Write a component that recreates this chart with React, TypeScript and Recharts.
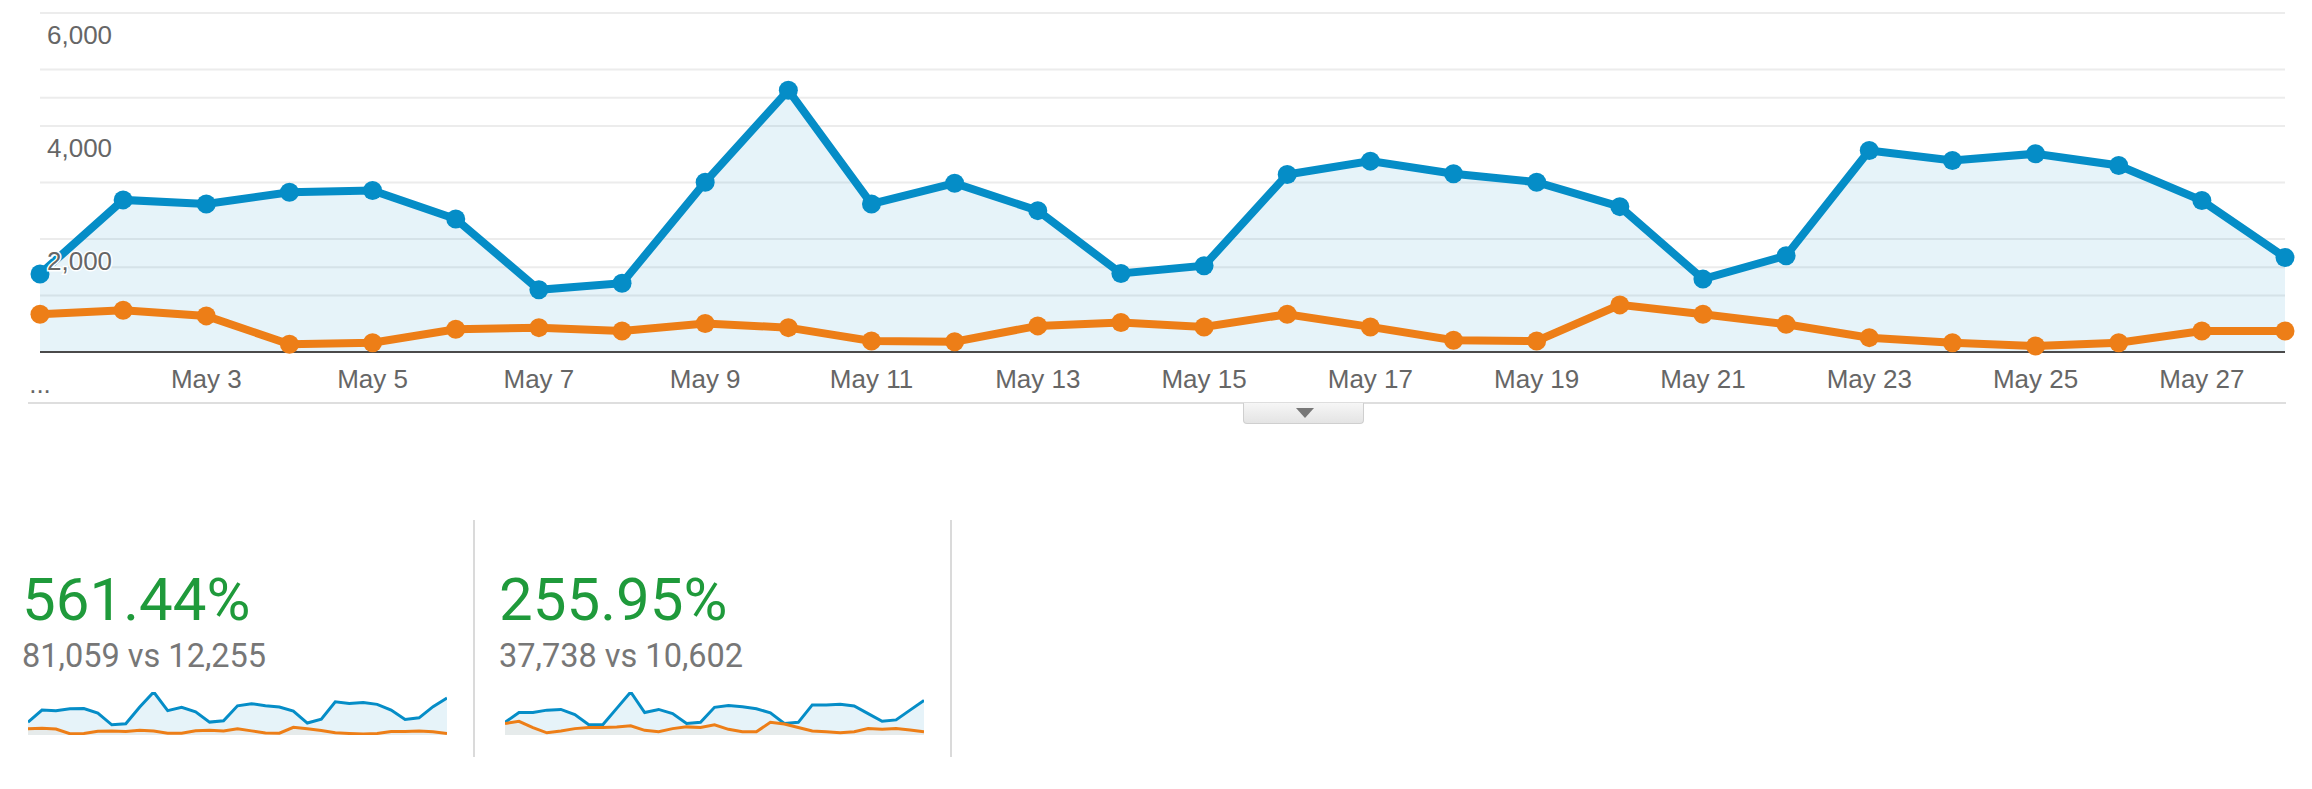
import React from 'react'
import { ComposedChart, Area, Line, XAxis, YAxis, CartesianGrid } from 'recharts'

const dates = [
  'May 1', 'May 2', 'May 3', 'May 4', 'May 5', 'May 6', 'May 7', 'May 8', 'May 9', 'May 10',
  'May 11', 'May 12', 'May 13', 'May 14', 'May 15', 'May 16', 'May 17', 'May 18', 'May 19', 'May 20',
  'May 21', 'May 22', 'May 23', 'May 24', 'May 25', 'May 26', 'May 27', 'May 28', 'May 29', 'May 30', 'May 31',
]

// metric 1 (main chart + first scorecard)
const sessionsCur = [
  1379, 2692, 2621, 2828, 2858, 2355, 1101, 1218, 3006, 4633,
  2621, 2988, 2502, 1390, 1527, 3142, 3378, 3154, 3006, 2573,
  1290, 1704, 3568, 3390, 3509, 3301, 2680, 1674, 1853, 3055, 3995,
]
const sessionsPrev = [
  669, 740, 639, 137, 165, 403, 431, 373, 503, 431,
  195, 183, 462, 521, 444, 669, 444, 207, 195, 834,
  669, 491, 254, 165, 107, 165, 373, 373, 425, 350, 160,
]

// metric 2 (second scorecard)
const usersCur = [
  683, 1209, 1209, 1341, 1379, 1097, 551, 551, 1435, 2319,
  1209, 1379, 1153, 626, 683, 1492, 1586, 1529, 1416, 1191,
  626, 683, 1623, 1623, 1661, 1567, 1153, 739, 814, 1341, 1868,
]
const usersPrev = [
  626, 739, 401, 119, 213, 344, 401, 401, 438, 495,
  250, 175, 344, 438, 401, 551, 307, 175, 175, 683,
  589, 401, 213, 175, 119, 175, 344, 307, 344, 269, 175,
]

const mainDays = 28
const yTicks = [0, 1000, 1500, 2000, 3000, 4000, 4500, 5000, 6000]
const yLabelTicks = [2000, 4000, 6000]

const scorecards = [
  { change: '561.44%', compare: '81,059 vs 12,255', cur: sessionsCur, prev: sessionsPrev },
  { change: '255.95%', compare: '37,738 vs 10,602', cur: usersCur, prev: usersPrev },
]

const BLUE = '#058dc7'
const ORANGE = '#ed7e17'
const AXIS_FONT = '"Liberation Sans", Arial, sans-serif'

const mainData = dates.slice(0, mainDays).map((d, i) => ({ date: d, cur: sessionsCur[i], prev: sessionsPrev[i] }))

const MARGIN = { top: 13, right: 27, left: 39, bottom: 0 }

function XTick(props: any) {
  const { x, y, payload, index } = props
  const first = index === 0 || payload.value === dates[0]
  return (
    <text x={x} y={y + (first ? 30 : 25)} textAnchor="middle" dominantBaseline="central" fill="#666" fontSize={26} fontFamily={AXIS_FONT}>
      {first ? '...' : payload.value}
    </text>
  )
}

function YTick(props: any) {
  const { y, payload } = props
  if (!yLabelTicks.includes(payload.value)) return <g />
  return (
    <text
      x={MARGIN.left + 8}
      y={y + 22}
      textAnchor="start"
      dominantBaseline="central"
      fill="#666"
      fontSize={26}
      fontFamily={AXIS_FONT}
      stroke="#fff"
      strokeWidth={3}
      style={{ paintOrder: 'stroke' }}
    >
      {payload.value.toLocaleString('en-US')}
    </text>
  )
}

function Sparkline({ cur, prev }: { cur: number[]; prev: number[] }) {
  const data = dates.map((d, i) => ({ date: d, cur: cur[i], prev: prev[i] }))
  return (
    <ComposedChart width={419} height={43} data={data} margin={{ top: 0, right: 0, left: 0, bottom: 0 }}>
      <XAxis dataKey="date" hide />
      <YAxis hide domain={[0, 'dataMax']} />
      <Area type="linear" dataKey="cur" stroke={BLUE} strokeWidth={3} fill={BLUE} fillOpacity={0.1} dot={false} activeDot={false} isAnimationActive={false} />
      <Area type="linear" dataKey="prev" stroke={ORANGE} strokeWidth={3} fill={ORANGE} fillOpacity={0.06} dot={false} activeDot={false} isAnimationActive={false} />
    </ComposedChart>
  )
}

export default function App() {
  return (
    <div style={{ position: 'absolute', left: 0, top: 0, width: 2312, height: 789, background: '#fff', overflow: 'hidden' }}>
      <div style={{ position: 'absolute', left: 0, top: 0 }}>
        <ComposedChart width={2312} height={400} data={mainData} margin={MARGIN}>
          <CartesianGrid vertical={false} stroke="#ececec" strokeWidth={2} />
          <XAxis
            dataKey="date"
            interval={1}
            height={48}
            tickSize={0}
            tickLine={false}
            axisLine={{ stroke: '#4a4a4a', strokeWidth: 2 }}
            tick={<XTick />}
          />
          <Area
            type="linear"
            dataKey="cur"
            stroke={BLUE}
            strokeWidth={8}
            fill={BLUE}
            fillOpacity={0.1}
            dot={{ r: 9.5, fill: BLUE, fillOpacity: 1, stroke: 'none' }}
            activeDot={false}
            isAnimationActive={false}
          />
          <Line
            type="linear"
            dataKey="prev"
            stroke={ORANGE}
            strokeWidth={8}
            dot={{ r: 9.5, fill: ORANGE, fillOpacity: 1, stroke: 'none' }}
            activeDot={false}
            isAnimationActive={false}
          />
          <YAxis
            width={1}
            domain={[0, 6000]}
            ticks={yTicks}
            tickSize={0}
            tickLine={false}
            axisLine={false}
            interval={0}
            tick={<YTick />}
          />
        </ComposedChart>
      </div>

      {/* separator under the chart with the collapse tab */}
      <div style={{ position: 'absolute', left: 28, top: 402, width: 2258, height: 2, background: '#dedede' }} />
      <div
        style={{
          position: 'absolute',
          left: 1243,
          top: 403,
          width: 121,
          height: 21,
          boxSizing: 'border-box',
          border: '1px solid #cfcfcf',
          borderTop: 'none',
          borderRadius: '0 0 4px 4px',
          background: 'linear-gradient(#f6f6f6, #e4e4e4)',
        }}
      >
        <div
          style={{
            position: 'absolute',
            left: 52,
            top: 5,
            width: 0,
            height: 0,
            borderLeft: '9px solid transparent',
            borderRight: '9px solid transparent',
            borderTop: '10px solid #777',
          }}
        />
      </div>

      {/* scorecards */}
      {scorecards.map((s, i) => {
        const left = i === 0 ? 22 : 499
        return (
          <div key={s.change}>
            <div
              style={{
                position: 'absolute',
                left,
                top: 565,
                fontFamily: 'Roboto, sans-serif',
                fontSize: 60,
                lineHeight: '70px',
                color: '#1f9a3b',
                whiteSpace: 'nowrap',
              }}
            >
              {s.change}
            </div>
            <div
              style={{
                position: 'absolute',
                left,
                top: 638,
                fontFamily: 'Roboto, sans-serif',
                fontSize: 32.5,
                lineHeight: '36px',
                color: '#777',
                whiteSpace: 'nowrap',
              }}
            >
              {s.compare}
            </div>
            <div style={{ position: 'absolute', left: left + 6, top: 692 }}>
              <Sparkline cur={s.cur} prev={s.prev} />
            </div>
          </div>
        )
      })}
      <div style={{ position: 'absolute', left: 473, top: 520, width: 2, height: 237, background: '#dadada' }} />
      <div style={{ position: 'absolute', left: 950, top: 520, width: 2, height: 237, background: '#dadada' }} />
    </div>
  )
}
